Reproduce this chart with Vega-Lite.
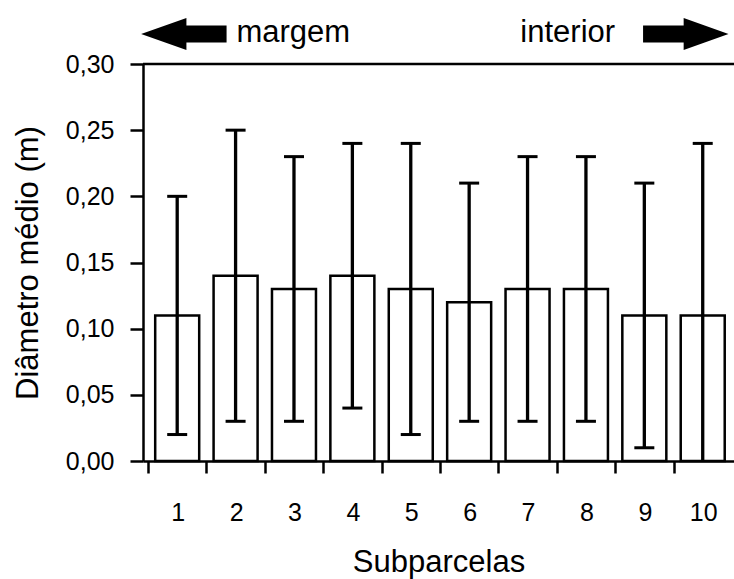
{
  "$schema": "https://vega.github.io/schema/vega-lite/v6.json",
  "width": 591,
  "height": 397,
  "autosize": {"type": "none"},
  "padding": {"left": 143, "top": 64, "right": 0, "bottom": 118},
  "background": "white",
  "config": {
    "view": {"stroke": null},
    "font": "Liberation Sans",
    "axis": {
      "grid": false,
      "domainColor": "black",
      "domainWidth": 2.5,
      "tickColor": "black",
      "tickWidth": 2.5,
      "labelColor": "black",
      "labelFont": "Liberation Sans",
      "labelFontSize": 25,
      "titleFont": "Liberation Sans",
      "titleFontSize": 31,
      "titleFontWeight": "normal",
      "titleColor": "black"
    }
  },
  "datasets": {
    "bars": [
      {"sub": 1, "mean": 0.11, "lo": 0.02, "hi": 0.20},
      {"sub": 2, "mean": 0.14, "lo": 0.03, "hi": 0.25},
      {"sub": 3, "mean": 0.13, "lo": 0.03, "hi": 0.23},
      {"sub": 4, "mean": 0.14, "lo": 0.04, "hi": 0.24},
      {"sub": 5, "mean": 0.13, "lo": 0.02, "hi": 0.24},
      {"sub": 6, "mean": 0.12, "lo": 0.03, "hi": 0.21},
      {"sub": 7, "mean": 0.13, "lo": 0.03, "hi": 0.23},
      {"sub": 8, "mean": 0.13, "lo": 0.03, "hi": 0.23},
      {"sub": 9, "mean": 0.11, "lo": 0.01, "hi": 0.21},
      {"sub": 10, "mean": 0.11, "lo": 0.0, "hi": 0.24}
    ],
    "arrows": [
      {"dir": "left", "x": 1.114, "y": 0.3227},
      {"dir": "right", "x": 9.71, "y": 0.3227}
    ],
    "noteLeft": [{"label": "margem", "x": 2.015, "y": 0.3166}],
    "noteRight": [{"label": "interior", "x": 8.5, "y": 0.3166}]
  },
  "layer": [
    {
      "data": {"name": "bars"},
      "mark": {"type": "bar", "orient": "vertical", "width": 44, "fill": "white", "stroke": "black", "strokeWidth": 2.5},
      "encoding": {
        "x": {
          "field": "sub",
          "type": "quantitative",
          "scale": {"domain": [0.5, 10.45], "nice": false, "zero": false},
          "title": "Subparcelas",
          "axis": {
            "values": [0.5, 1.5, 2.5, 3.5, 4.5, 5.5, 6.5, 7.5, 8.5, 9.5],
            "labelExpr": "format(datum.value + 0.5, 'd')",
            "labelOffset": 29.7,
            "labelFlush": false,
            "labelOverlap": false,
            "tickSize": 12,
            "labelPadding": 27,
            "titlePadding": 22
          }
        },
        "y": {
          "field": "mean",
          "type": "quantitative",
          "scale": {"domain": [0, 0.3], "nice": false},
          "title": "Diâmetro médio (m)",
          "axis": {
            "values": [0, 0.025, 0.05, 0.075, 0.1, 0.125, 0.15, 0.175, 0.2, 0.225, 0.25, 0.275, 0.3],
            "labelExpr": "round(datum.value * 1000) % 50 == 0 ? replace(format(datum.value, '.2f'), '.', ',') : ''",
            "tickSize": {"condition": {"test": "round(datum.value * 1000) % 50 == 0", "value": 13}, "value": 6},
            "labelPadding": 16,
            "titlePadding": 21
          }
        }
      }
    },
    {
      "data": {"name": "bars"},
      "mark": {"type": "rule", "color": "black", "strokeWidth": 3.3},
      "encoding": {
        "x": {"field": "sub", "type": "quantitative"},
        "y": {"field": "lo", "type": "quantitative"},
        "y2": {"field": "hi"}
      }
    },
    {
      "data": {"name": "bars"},
      "mark": {"type": "tick", "orient": "horizontal", "size": 20, "thickness": 3, "color": "black", "opacity": 1},
      "encoding": {
        "x": {"field": "sub", "type": "quantitative"},
        "y": {"field": "hi", "type": "quantitative"}
      }
    },
    {
      "data": {"name": "bars"},
      "transform": [{"filter": "datum.lo > 0"}],
      "mark": {"type": "tick", "orient": "horizontal", "size": 20, "thickness": 3, "color": "black", "opacity": 1},
      "encoding": {
        "x": {"field": "sub", "type": "quantitative"},
        "y": {"field": "lo", "type": "quantitative"}
      }
    },
    {
      "data": {"values": [{}]},
      "mark": {"type": "rule", "color": "black", "strokeWidth": 2.5},
      "encoding": {"y": {"datum": 0.3}}
    },
    {
      "data": {"name": "arrows"},
      "mark": {"type": "point", "filled": true, "size": 7300, "color": "black", "opacity": 1, "strokeWidth": 0},
      "encoding": {
        "x": {"field": "x", "type": "quantitative"},
        "y": {"field": "y", "type": "quantitative"},
        "shape": {
          "field": "dir",
          "type": "nominal",
          "scale": {
            "domain": ["left", "right"],
            "range": [
              "M -1 0 L 0.06 -0.376 L 0.06 -0.2 L 1 -0.2 L 1 0.2 L 0.06 0.2 L 0.06 0.376 Z",
              "M 1 0 L -0.05 -0.376 L -0.05 -0.2 L -1 -0.2 L -1 0.2 L -0.05 0.2 L -0.05 0.376 Z"
            ]
          },
          "legend": null
        }
      }
    },
    {
      "data": {"name": "noteLeft"},
      "mark": {"type": "text", "align": "left", "baseline": "alphabetic", "fontSize": 31, "color": "black", "font": "Liberation Sans"},
      "encoding": {
        "x": {"field": "x", "type": "quantitative"},
        "y": {"field": "y", "type": "quantitative"},
        "text": {"field": "label"}
      }
    },
    {
      "data": {"name": "noteRight"},
      "mark": {"type": "text", "align": "right", "baseline": "alphabetic", "fontSize": 31, "color": "black", "font": "Liberation Sans"},
      "encoding": {
        "x": {"field": "x", "type": "quantitative"},
        "y": {"field": "y", "type": "quantitative"},
        "text": {"field": "label"}
      }
    }
  ]
}
